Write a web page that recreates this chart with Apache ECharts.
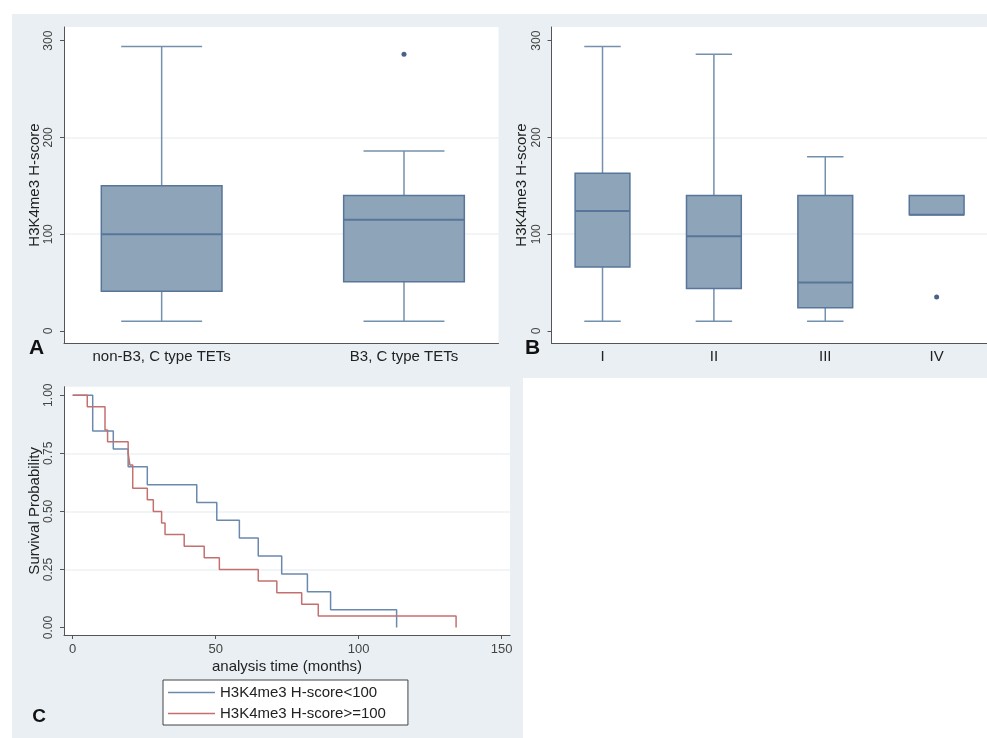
<!DOCTYPE html>
<html><head><meta charset="utf-8">
<script src="https://cdn.jsdelivr.net/npm/echarts@6/dist/echarts.min.js"></script>
<style>html,body{margin:0;padding:0;background:#fff;} #c{width:987px;height:738px;}</style>
</head><body><div id="c"></div>
<script>
// ---------- Data ----------
// Panel A: box plots by histotype
const catsA = ['non-B3, C type TETs', 'B3, C type TETs'];
const minA = [10, 10];
const q1A = [41, 51];
const medA = [100, 115];
const q3A = [150, 140];
const maxA = [294, 186];
const outlierCatA = ['B3, C type TETs'];
const outlierValA = [286];

// Panel B: box plots by stage
const catsB = ['I', 'II', 'III', 'IV'];
const minB = [10, 10, 10, 120];
const q1B = [66, 44, 24, 120];
const medB = [124, 98, 50, 120];
const q3B = [163, 140, 140, 140];
const maxB = [294, 286, 180, 140];
const outlierCatB = ['IV'];
const outlierValB = [35];

const yTicksBox = [0, 100, 200, 300];

// Panel C: Kaplan-Meier curves
const seriesNamesC = ['H3K4me3 H-score<100', 'H3K4me3 H-score>=100'];
const lowTime = [0, 7.0, 14.2, 19.4, 26.1, 43.4, 50.4, 58.3, 64.9, 73.1, 82.1, 90.2, 113.3];
const lowSurv = [1, 0.846, 0.769, 0.692, 0.615, 0.538, 0.462, 0.385, 0.308, 0.231, 0.154, 0.077, 0];
const highTime = [0, 5.1, 11.3, 12.2, 19.4, 20.0, 21.0, 26.1, 28.2, 31.1, 32.3, 39.0, 46.0, 51.3, 64.9, 71.4, 80.1, 85.9, 134.1];
const highSurv = [1, 0.95, 0.85, 0.80, 0.75, 0.70, 0.60, 0.55, 0.50, 0.45, 0.40, 0.35, 0.30, 0.25, 0.20, 0.15, 0.10, 0.05, 0];
const xTicksC = [0, 50, 100, 150];
const yTicksC = [0, 0.25, 0.5, 0.75, 1];

// ---------- Styles ----------
const FONT = 'Liberation Sans, Arial, sans-serif';
const BG = '#E9EFF2';
const AXIS = '#555';
const LABEL = '#444';
const TITLE = '#222';
const GRIDLINE = '#EDF2F5';
const BOX_FILL = '#8EA4B9';
const BOX_EDGE = '#58769A';
const WHISKER = '#7390AD';
const OUTLIER = '#1E3A66';
const KM_COLORS = ['#6A89AD', '#C4706F'];

function boxRender(boxFrac, capFrac) {
  return function (params, api) {
    const x = api.value(0);
    const vMin = api.value(1), vQ1 = api.value(2), vMed = api.value(3), vQ3 = api.value(4), vMax = api.value(5);
    const pMin = api.coord([x, vMin]);
    const pQ1 = api.coord([x, vQ1]);
    const pMed = api.coord([x, vMed]);
    const pQ3 = api.coord([x, vQ3]);
    const pMax = api.coord([x, vMax]);
    const unit = api.size([1, 0])[0];
    const bw = unit * boxFrac, cw = unit * capFrac;
    const cx = pMed[0];
    const wStyle = { stroke: WHISKER, lineWidth: 1.5 };
    const children = [];
    if (vMax > vQ3) {
      children.push({ type: 'line', shape: { x1: cx, y1: pQ3[1], x2: cx, y2: pMax[1] }, style: wStyle });
      children.push({ type: 'line', shape: { x1: cx - cw / 2, y1: pMax[1], x2: cx + cw / 2, y2: pMax[1] }, style: wStyle });
    }
    if (vMin < vQ1) {
      children.push({ type: 'line', shape: { x1: cx, y1: pQ1[1], x2: cx, y2: pMin[1] }, style: wStyle });
      children.push({ type: 'line', shape: { x1: cx - cw / 2, y1: pMin[1], x2: cx + cw / 2, y2: pMin[1] }, style: wStyle });
    }
    children.push({ type: 'rect', shape: { x: cx - bw / 2, y: pQ3[1], width: bw, height: pQ1[1] - pQ3[1] },
      style: { fill: BOX_FILL, stroke: BOX_EDGE, lineWidth: 1.5 } });
    children.push({ type: 'line', shape: { x1: cx - bw / 2, y1: pMed[1], x2: cx + bw / 2, y2: pMed[1] },
      style: { stroke: BOX_EDGE, lineWidth: 2 } });
    return { type: 'group', children: children };
  };
}

function boxYAxis(gridIndex) {
  return {
    gridIndex: gridIndex, type: 'value', min: -12.4, max: 314.1,
    name: 'H3K4me3 H-score', nameLocation: 'middle', nameGap: 21,
    nameTextStyle: { fontSize: 15, color: TITLE, fontFamily: FONT },
    axisLine: { show: true, onZero: false, lineStyle: { color: AXIS, width: 1 } },
    axisTick: { show: true, length: 4, customValues: yTicksBox, lineStyle: { color: AXIS } },
    axisLabel: { customValues: yTicksBox, rotate: 90, margin: 9, fontSize: 12, color: LABEL, fontFamily: FONT },
    splitLine: { show: true, showMinLine: false, showMaxLine: false, lineStyle: { color: GRIDLINE, width: 1.5 } }
  };
}

function catXAxis(gridIndex, cats, min, max) {
  return {
    gridIndex: gridIndex, type: 'value', min: min, max: max,
    axisLine: { show: true, onZero: false, lineStyle: { color: AXIS, width: 1 } },
    axisTick: { show: false, customValues: cats.map((c, i) => i + 1) },
    axisLabel: { customValues: cats.map((c, i) => i + 1), formatter: v => cats[Math.round(v) - 1] || '',
      margin: 6, fontSize: 15, color: TITLE, fontFamily: FONT },
    splitLine: { show: false }
  };
}

const chart = echarts.init(document.getElementById('c'), null, { renderer: 'canvas' });
chart.setOption({
  animation: false,
  textStyle: { fontFamily: FONT },
  graphic: {
    elements: [
      { type: 'rect', z: -10, silent: true, shape: { x: 12, y: 14, width: 975, height: 364 }, style: { fill: BG } },
      { type: 'rect', z: -10, silent: true, shape: { x: 12, y: 378, width: 511, height: 360 }, style: { fill: BG } },
      { type: 'text', x: 36.5, y: 348.5, style: { text: 'A', font: 'bold 21px ' + FONT, fill: '#111', align: 'center', verticalAlign: 'middle' } },
      { type: 'text', x: 532.5, y: 348.5, style: { text: 'B', font: 'bold 21px ' + FONT, fill: '#111', align: 'center', verticalAlign: 'middle' } },
      { type: 'text', x: 39, y: 717, style: { text: 'C', font: 'bold 19px ' + FONT, fill: '#111', align: 'center', verticalAlign: 'middle' } }
    ]
  },
  grid: [
    { left: 64, right: 488.5, top: 27, bottom: 395, show: true, backgroundColor: '#fff', borderWidth: 0 },
    { left: 551.5, right: 0, top: 27, bottom: 395, show: true, backgroundColor: '#fff', borderWidth: 0 },
    { left: 64, right: 477, top: 386.7, bottom: 103, show: true, backgroundColor: '#fff', borderWidth: 0 }
  ],
  xAxis: [
    catXAxis(0, catsA, 0.597, 2.39),
    catXAxis(1, catsB, 0.542, 4.452),
    {
      gridIndex: 2, type: 'value', min: -3.04, max: 152.96,
      name: 'analysis time (months)', nameLocation: 'middle', nameGap: 24,
      nameTextStyle: { fontSize: 15, color: TITLE, fontFamily: FONT },
      axisLine: { show: true, onZero: false, lineStyle: { color: AXIS, width: 1 } },
      axisTick: { show: true, length: 4, customValues: xTicksC, lineStyle: { color: AXIS } },
      axisLabel: { customValues: xTicksC, margin: 8, fontSize: 13, color: LABEL, fontFamily: FONT },
      splitLine: { show: false }
    }
  ],
  yAxis: [
    boxYAxis(0),
    boxYAxis(1),
    {
      gridIndex: 2, type: 'value', min: -0.032, max: 1.0366,
      name: 'Survival Probability', nameLocation: 'middle', nameGap: 21,
      nameTextStyle: { fontSize: 15, color: TITLE, fontFamily: FONT },
      axisLine: { show: true, onZero: false, lineStyle: { color: AXIS, width: 1 } },
      axisTick: { show: true, length: 4, customValues: yTicksC, lineStyle: { color: AXIS } },
      axisLabel: { customValues: yTicksC, formatter: v => v.toFixed(2), rotate: 90, margin: 9, fontSize: 12, color: LABEL, fontFamily: FONT },
      splitLine: { show: true, showMinLine: false, showMaxLine: false, lineStyle: { color: GRIDLINE, width: 1.5 } }
    }
  ],
  legend: {
    data: seriesNamesC, orient: 'vertical', left: 163, top: 680,
    icon: 'rect', itemWidth: 47, itemHeight: 1.5, itemGap: 6, padding: [5, 22, 4, 5],
    backgroundColor: '#fff', borderColor: '#444', borderWidth: 1, borderRadius: 0,
    textStyle: { fontSize: 15, color: TITLE, fontFamily: FONT, lineHeight: 15 },
    selectedMode: false
  },
  series: [
    {
      type: 'custom', xAxisIndex: 0, yAxisIndex: 0, renderItem: boxRender(0.498, 0.334),
      encode: { x: 0, y: [1, 2, 3, 4, 5] },
      data: catsA.map((c, i) => [i + 1, minA[i], q1A[i], medA[i], q3A[i], maxA[i]])
    },
    {
      type: 'scatter', xAxisIndex: 0, yAxisIndex: 0, symbol: 'circle', symbolSize: 5,
      itemStyle: { color: OUTLIER },
      data: outlierCatA.map((c, i) => [catsA.indexOf(c) + 1, outlierValA[i]])
    },
    {
      type: 'custom', xAxisIndex: 1, yAxisIndex: 1, renderItem: boxRender(0.492, 0.327),
      encode: { x: 0, y: [1, 2, 3, 4, 5] },
      data: catsB.map((c, i) => [i + 1, minB[i], q1B[i], medB[i], q3B[i], maxB[i]])
    },
    {
      type: 'scatter', xAxisIndex: 1, yAxisIndex: 1, symbol: 'circle', symbolSize: 5,
      itemStyle: { color: OUTLIER },
      data: outlierCatB.map((c, i) => [catsB.indexOf(c) + 1, outlierValB[i]])
    },
    {
      name: seriesNamesC[0], type: 'line', xAxisIndex: 2, yAxisIndex: 2, step: 'end',
      symbol: 'none', color: KM_COLORS[0], lineStyle: { color: KM_COLORS[0], width: 1.5 },
      data: lowTime.map((t, i) => [t, lowSurv[i]])
    },
    {
      name: seriesNamesC[1], type: 'line', xAxisIndex: 2, yAxisIndex: 2, step: 'end',
      symbol: 'none', color: KM_COLORS[1], lineStyle: { color: KM_COLORS[1], width: 1.5 },
      data: highTime.map((t, i) => [t, highSurv[i]])
    }
  ]
});
</script></body></html>
